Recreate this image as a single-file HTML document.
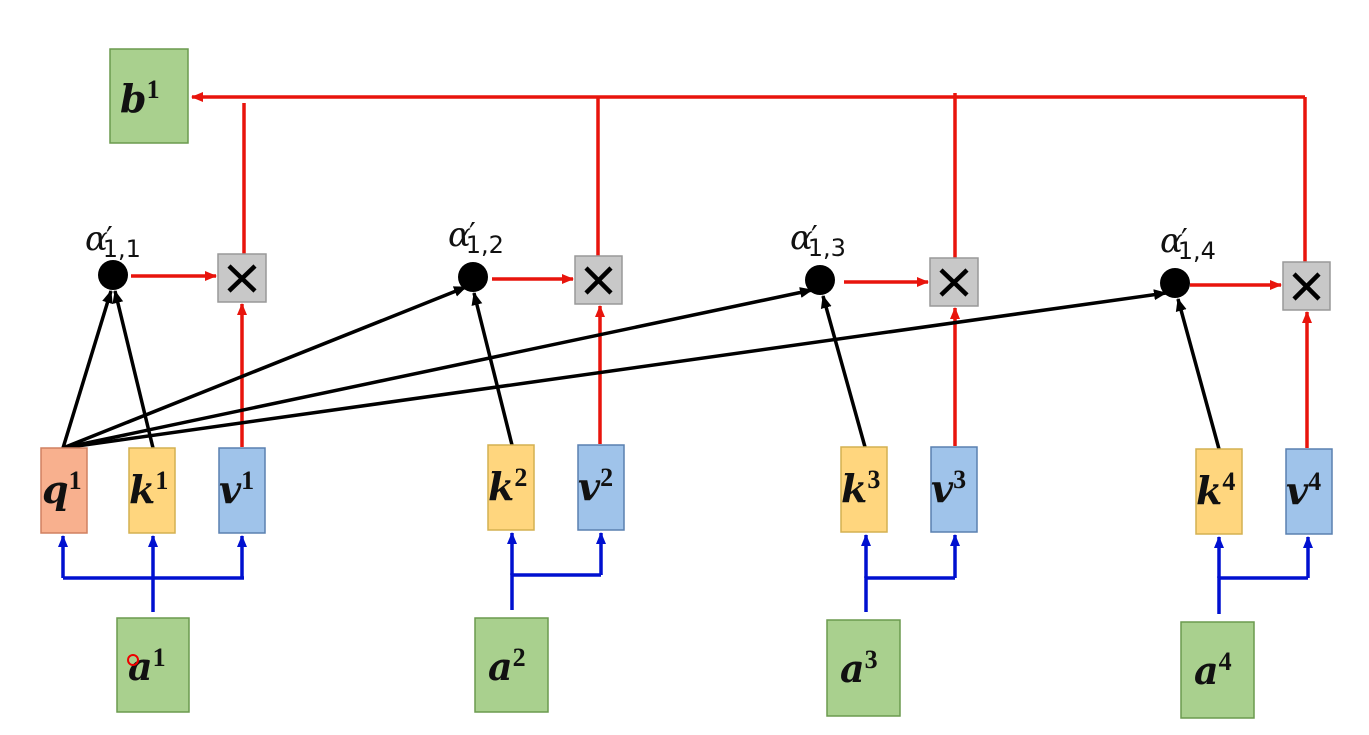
<!DOCTYPE html>
<html><head><meta charset="utf-8"><style>
body{margin:0;background:#fff;}
svg{display:block;}
.lb{font-family:"DejaVu Serif","Liberation Serif",serif;font-style:italic;font-weight:bold;font-size:38px;fill:#111;}
.sp{font-family:"Liberation Serif",serif;font-style:normal;font-weight:bold;font-size:26px;fill:#111;}
.al{font-family:"DejaVu Serif","Liberation Serif",serif;font-style:italic;font-size:34px;fill:#111;}
.as{font-family:"DejaVu Sans","Liberation Sans",sans-serif;font-style:normal;font-size:24px;fill:#111;}
.pr{font-family:"DejaVu Serif",serif;font-style:normal;font-size:30px;fill:#111;}
</style></head><body>
<svg width="1369" height="735" viewBox="0 0 1369 735" xmlns="http://www.w3.org/2000/svg">
<defs>
<marker id="ar" markerWidth="12" markerHeight="12" refX="11" refY="6" orient="auto" markerUnits="userSpaceOnUse"><path d="M0,1 L12,6 L0,11 z" fill="#e8140c"/></marker>
<marker id="ab" markerWidth="13" markerHeight="13" refX="12" refY="6.5" orient="auto" markerUnits="userSpaceOnUse"><path d="M0,1 L13,6.5 L0,12 z" fill="#000"/></marker>
<marker id="au" markerWidth="12" markerHeight="12" refX="11" refY="6" orient="auto" markerUnits="userSpaceOnUse"><path d="M0,1 L12,6 L0,11 z" fill="#0010d0"/></marker>
</defs>
<g stroke="#e8140c" stroke-width="3.5" fill="none">
<line x1="1305" y1="97" x2="192" y2="97" marker-end="url(#ar)"/>
<line x1="244" y1="103" x2="244" y2="254"/>
<line x1="598" y1="97" x2="598" y2="256"/>
<line x1="955" y1="93" x2="955" y2="258"/>
<line x1="1305" y1="97" x2="1305" y2="262"/>
<line x1="131" y1="276" x2="216" y2="276" marker-end="url(#ar)"/>
<line x1="492" y1="279" x2="573" y2="279" marker-end="url(#ar)"/>
<line x1="844" y1="282" x2="928" y2="282" marker-end="url(#ar)"/>
<line x1="1190" y1="285" x2="1281" y2="285" marker-end="url(#ar)"/>
<line x1="242" y1="447" x2="242" y2="304" marker-end="url(#ar)"/>
<line x1="600" y1="444" x2="600" y2="306" marker-end="url(#ar)"/>
<line x1="955" y1="446" x2="955" y2="308" marker-end="url(#ar)"/>
<line x1="1307" y1="448" x2="1307" y2="312" marker-end="url(#ar)"/>
</g>
<g stroke="#000" stroke-width="3.5" fill="none">
<line x1="63" y1="448" x2="111" y2="291" marker-end="url(#ab)"/>
<line x1="153" y1="448" x2="115" y2="291" marker-end="url(#ab)"/>
<line x1="63" y1="448" x2="466" y2="287" marker-end="url(#ab)"/>
<line x1="63" y1="448" x2="812" y2="290" marker-end="url(#ab)"/>
<line x1="63" y1="448" x2="1166" y2="293" marker-end="url(#ab)"/>
<line x1="512" y1="445" x2="474" y2="293" marker-end="url(#ab)"/>
<line x1="865" y1="447" x2="823" y2="296" marker-end="url(#ab)"/>
<line x1="1219" y1="449" x2="1178" y2="299" marker-end="url(#ab)"/>
</g>
<circle cx="113" cy="275" r="15" fill="#000"/>
<circle cx="473" cy="277" r="15" fill="#000"/>
<circle cx="820" cy="280" r="15" fill="#000"/>
<circle cx="1175" cy="283" r="15" fill="#000"/>
<g fill="#c8c8c8" stroke="#999" stroke-width="1.5">
<rect x="218" y="254" width="48" height="48"/>
<rect x="575" y="256" width="47" height="48"/>
<rect x="930" y="258" width="48" height="48"/>
<rect x="1283" y="262" width="47" height="48"/>
</g>
<g stroke="#000" stroke-width="4.5">
<path d="M229,266 L255,291 M255,266 L229,291"/>
<path d="M586,268 L611,293 M611,268 L586,293"/>
<path d="M941,270 L967,295 M967,270 L941,295"/>
<path d="M1294,274 L1319,299 M1319,274 L1294,299"/>
</g>
<text x="85" y="250" class="al">α<tspan dx="-2" dy="-2" class="pr">′</tspan><tspan dx="-10" dy="9" class="as">1,1</tspan></text>
<text x="448" y="246" class="al">α<tspan dx="-2" dy="-2" class="pr">′</tspan><tspan dx="-10" dy="9" class="as">1,2</tspan></text>
<text x="790" y="249" class="al">α<tspan dx="-2" dy="-2" class="pr">′</tspan><tspan dx="-10" dy="9" class="as">1,3</tspan></text>
<text x="1160" y="252" class="al">α<tspan dx="-2" dy="-2" class="pr">′</tspan><tspan dx="-10" dy="9" class="as">1,4</tspan></text>
<g stroke-width="1.5">
<rect x="110" y="49" width="78" height="94" fill="#a9d08e" stroke="#6b9a4f"/>
<rect x="41" y="448" width="46" height="85" fill="#f8b08e" stroke="#d08060"/>
<rect x="129" y="448" width="46" height="85" fill="#ffd67e" stroke="#d4b050"/>
<rect x="219" y="448" width="46" height="85" fill="#9fc3ea" stroke="#5a80b0"/>
<rect x="488" y="445" width="46" height="85" fill="#ffd67e" stroke="#d4b050"/>
<rect x="578" y="445" width="46" height="85" fill="#9fc3ea" stroke="#5a80b0"/>
<rect x="841" y="447" width="46" height="85" fill="#ffd67e" stroke="#d4b050"/>
<rect x="931" y="447" width="46" height="85" fill="#9fc3ea" stroke="#5a80b0"/>
<rect x="1196" y="449" width="46" height="85" fill="#ffd67e" stroke="#d4b050"/>
<rect x="1286" y="449" width="46" height="85" fill="#9fc3ea" stroke="#5a80b0"/>
<rect x="117" y="618" width="72" height="94" fill="#a9d08e" stroke="#6b9a4f"/>
<rect x="475" y="618" width="73" height="94" fill="#a9d08e" stroke="#6b9a4f"/>
<rect x="827" y="620" width="73" height="96" fill="#a9d08e" stroke="#6b9a4f"/>
<rect x="1181" y="622" width="73" height="96" fill="#a9d08e" stroke="#6b9a4f"/>
</g>
<g stroke="#0010d0" stroke-width="3.5" fill="none">
<path d="M153,612 V578 M63,578 H244"/>
<line x1="63" y1="578" x2="63" y2="536" marker-end="url(#au)"/>
<line x1="153" y1="578" x2="153" y2="536" marker-end="url(#au)"/>
<line x1="242" y1="578" x2="242" y2="536" marker-end="url(#au)"/>
<path d="M512,610 V575 H601"/>
<line x1="512" y1="575" x2="512" y2="533" marker-end="url(#au)"/>
<line x1="601" y1="575" x2="601" y2="533" marker-end="url(#au)"/>
<path d="M866,612 V578 H955"/>
<line x1="866" y1="578" x2="866" y2="535" marker-end="url(#au)"/>
<line x1="955" y1="578" x2="955" y2="535" marker-end="url(#au)"/>
<path d="M1219,614 V578 H1308"/>
<line x1="1219" y1="578" x2="1219" y2="537" marker-end="url(#au)"/>
<line x1="1308" y1="578" x2="1308" y2="537" marker-end="url(#au)"/>
</g>
<text x="120" y="112" class="lb">b<tspan dy="-14" class="sp">1</tspan></text>
<text x="42" y="503" class="lb">q<tspan dy="-14" class="sp">1</tspan></text>
<text x="129" y="503" class="lb">k<tspan dy="-14" class="sp">1</tspan></text>
<text x="219" y="503" class="lb">v<tspan dy="-14" class="sp">1</tspan></text>
<text x="488" y="500" class="lb">k<tspan dy="-14" class="sp">2</tspan></text>
<text x="578" y="500" class="lb">v<tspan dy="-14" class="sp">2</tspan></text>
<text x="841" y="502" class="lb">k<tspan dy="-14" class="sp">3</tspan></text>
<text x="931" y="502" class="lb">v<tspan dy="-14" class="sp">3</tspan></text>
<text x="1196" y="504" class="lb">k<tspan dy="-14" class="sp">4</tspan></text>
<text x="1286" y="504" class="lb">v<tspan dy="-14" class="sp">4</tspan></text>
<text x="128" y="680" class="lb">a<tspan dy="-14" class="sp">1</tspan></text>
<text x="488" y="680" class="lb">a<tspan dy="-14" class="sp">2</tspan></text>
<text x="840" y="682" class="lb">a<tspan dy="-14" class="sp">3</tspan></text>
<text x="1194" y="684" class="lb">a<tspan dy="-14" class="sp">4</tspan></text>
<circle cx="133" cy="660" r="5" fill="none" stroke="#e00" stroke-width="2"/>
</svg>
</body></html>
